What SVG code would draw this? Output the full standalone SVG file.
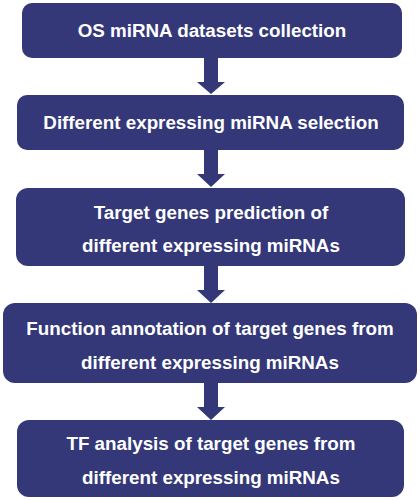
<svg xmlns="http://www.w3.org/2000/svg" width="420" height="500" viewBox="0 0 420 500">
<style>
.box{fill:#343878;}
.t{font-family:"Liberation Sans",Arial,sans-serif;font-weight:bold;font-size:18.8px;fill:#ffffff;text-anchor:middle;}
.arr{fill:#343878;}
</style>
<rect width="420" height="500" fill="#ffffff"/>
<g id="connectors">
<path class="arr" d="M204,58 H218 V82 H225 L211,94 L197,82 H204 Z"/>
<path class="arr" d="M204,150 H218 V174 H225 L211,187 L197,174 H204 Z"/>
<path class="arr" d="M204,266 H218 V290 H225 L211,303 L197,290 H204 Z"/>
<path class="arr" d="M204,383 H218 V407 H225 L211,420 L197,407 H204 Z"/>
</g>
<g id="n1">
<rect class="box" x="22" y="3" width="380" height="55" rx="10"/>
<text class="t" x="212" y="37">OS miRNA datasets collection</text>
</g>
<g id="n2">
<rect class="box" x="17" y="95" width="387" height="55" rx="10"/>
<text class="t" x="211" y="129">Different expressing miRNA selection</text>
</g>
<g id="n3">
<rect class="box" x="16" y="188" width="389" height="78" rx="12"/>
<text class="t" x="211" y="219">Target genes prediction of</text>
<text class="t" x="211" y="252">different expressing miRNAs</text>
</g>
<g id="n4">
<rect class="box" x="3" y="303" width="414" height="80" rx="12"/>
<text class="t" x="210" y="335">Function annotation of target genes from</text>
<text class="t" x="210" y="369">different expressing miRNAs</text>
</g>
<g id="n5">
<rect class="box" x="17" y="420" width="387" height="77" rx="12"/>
<text class="t" x="211" y="450">TF analysis of target genes from</text>
<text class="t" x="211" y="484">different expressing miRNAs</text>
</g>
</svg>
